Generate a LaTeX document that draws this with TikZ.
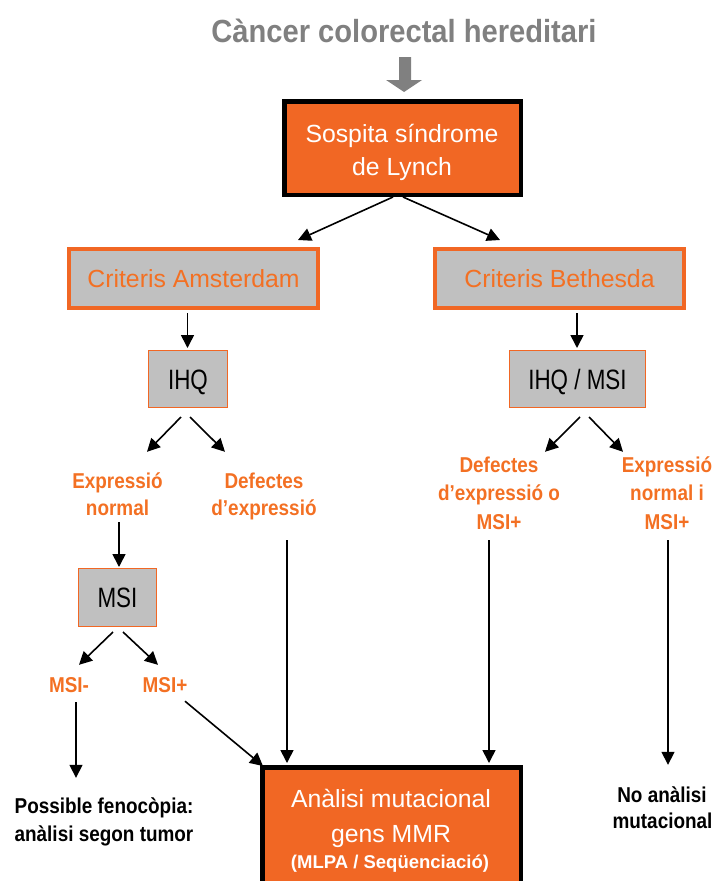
\documentclass[tikz,border=0pt]{standalone}
\usepackage{fontspec}
\setmainfont{Liberation Sans}
\newfontfamily\narrowfont[FakeStretch=0.8]{Liberation Sans}
\newfontfamily\labelfont[FakeStretch=0.88]{Liberation Sans}
\newfontfamily\titlefont[FakeStretch=0.91]{Liberation Sans}
\usetikzlibrary{arrows.meta}
\definecolor{lynchorange}{RGB}{241,103,36}
\definecolor{labelorange}{RGB}{243,112,35}
\definecolor{boxgray}{RGB}{192,192,192}
\definecolor{titlegray}{RGB}{128,128,128}

\begin{document}
\begin{tikzpicture}[x=1pt,y=-1pt,
  keybox/.style={draw=black, line width=4.5pt, fill=lynchorange, inner sep=0pt},
  critbox/.style={draw=lynchorange, line width=4pt, fill=boxgray, inner sep=0pt,
    minimum width=249pt, minimum height=59pt, text=labelorange,
    font=\fontsize{24.8}{30}\selectfont, text height=17.8pt, text depth=0pt},
  testbox/.style={draw=lynchorange, line width=1.3pt, fill=boxgray, inner sep=0pt,
    minimum height=56.7pt, font=\narrowfont\fontsize{28}{32}\selectfont,
    text height=20pt, text depth=0pt},
  whiteline/.style={text=white, inner sep=0pt, anchor=base,
    font=\fontsize{24.8}{30}\selectfont},
  outcome/.style={inner sep=0pt, anchor=base, text height=15.5pt, text depth=4.5pt,
    font=\labelfont\bfseries\fontsize{21.5}{26}\selectfont},
  orangelabel/.style={outcome, text=labelorange},
  blacklabel/.style={outcome, text=black},
  arr/.style={line width=1.6pt, -{Triangle[length=13pt,width=13pt]}},
]
\useasboundingbox (0,0) rectangle (713,881);
\clip (0,0) rectangle (713,881);

% heading and the broad grey arrow below it
\node[text=titlegray, inner sep=0pt, anchor=base,
      font=\titlefont\bfseries\fontsize{32}{36}\selectfont] (title) at (404,42)
      {Càncer colorectal hereditari};
\fill[titlegray] (399,57) -- (411,57) -- (411,80) -- (422,80) -- (404,92)
                 -- (386,80) -- (399,80) -- cycle;

% suspicion box
\node[keybox, minimum width=236.5pt, minimum height=93.5pt] (sosp) at (402.5,148) {};
\node[whiteline] (sp1) at (402,142) {Sospita síndrome};
\node[whiteline] (sp2) at (402,175) {de Lynch};

% clinical criteria
\node[critbox] (crA) at (193.5,278.5) {Criteris Amsterdam};
\node[critbox] (crB) at (559.5,278.5) {Criteris Bethesda};

% tumour tests
\node[testbox, minimum width=78.7pt] (ihq) at (188,379) {IHQ};
\node[testbox, minimum width=135.7pt] (ihqm) at (577.5,379) {IHQ / MSI};
\node[testbox, minimum width=77.7pt, minimum height=57.7pt] (msi) at (117.5,597.5) {MSI};

% test results
\node[orangelabel] (en1) at (117.5,488) {Expressió};
\node[orangelabel] (en2) at (117.5,515) {normal};
\node[orangelabel] (dd1) at (264,488) {Defectes};
\node[orangelabel] (dd2) at (264,515) {d’expressió};
\node[orangelabel] (rd1) at (499,472) {Defectes};
\node[orangelabel] (rd2) at (499,500) {d’expressió o};
\node[orangelabel] (rd3) at (499,529) {MSI+};
\node[orangelabel] (rn1) at (667,472) {Expressió};
\node[orangelabel] (rn2) at (667,500) {normal i};
\node[orangelabel] (rn3) at (667,529) {MSI+};
\node[orangelabel] (msim) at (69,692) {MSI-};
\node[orangelabel] (msip) at (165,692) {MSI+};

% final outcomes
\node[blacklabel] (pf1) at (104,813) {Possible fenocòpia:};
\node[blacklabel] (pf2) at (104,841) {anàlisi segon tumor};
\node[blacklabel] (na1) at (662,802) {No anàlisi};
\node[blacklabel] (na2) at (662.5,828) {mutacional};

\node[keybox, minimum width=258.5pt, minimum height=200pt, anchor=north] (mut) at (391.5,765) {};
\node[whiteline] (ml1) at (391,807) {Anàlisi mutacional};
\node[whiteline] (ml2) at (391,842) {gens MMR};
\node[text=white, inner sep=0pt, anchor=base,
      font=\bfseries\fontsize{18.5}{22}\selectfont] (ml3) at (390,868)
      {(MLPA / Seqüenciació)};

% connectors
\draw[arr] ([xshift=-9.5pt]sosp.south) -- ([xshift=104.5pt,yshift=7pt]crA.north);
\draw[arr] ([xshift=0.5pt]sosp.south) -- ([xshift=-59.5pt,yshift=7pt]crB.north);
\draw[arr] ([xshift=-6pt,yshift=-3pt]crA.south) -- ([xshift=-0.5pt,yshift=2pt]ihq.north);
\draw[arr] ([xshift=17.5pt,yshift=-3pt]crB.south) -- ([xshift=-0.5pt,yshift=2pt]ihqm.north);
\draw[arr] ([xshift=-7pt,yshift=-9pt]ihq.south) -- ([xshift=29.5pt,yshift=20.5pt]en1.north);
\draw[arr] ([xshift=2pt,yshift=-9pt]ihq.south) -- ([xshift=-39pt,yshift=20.5pt]dd1.north);
\draw[arr] ([xshift=2.5pt,yshift=-9pt]ihqm.south) -- ([xshift=46pt,yshift=4.5pt]rd1.north);
\draw[arr] ([xshift=11.5pt,yshift=-9pt]ihqm.south) -- ([xshift=-44pt,yshift=4.5pt]rn1.north);
\draw[arr] ([xshift=1.5pt,yshift=-2.5pt]en2.south) -- ([xshift=1.5pt,yshift=1pt]msi.north);
\draw[arr] ([xshift=-4.5pt,yshift=-5pt]msi.south) -- ([xshift=10pt,yshift=11.5pt]msim.north);
\draw[arr] ([xshift=5.5pt,yshift=-5pt]msi.south) -- ([xshift=-7pt,yshift=11.5pt]msip.north);
\draw[arr] ([xshift=7pt,yshift=-5.5pt]msim.south) -- ([xshift=-28pt,yshift=19.5pt]pf1.north);
\draw[arr] ([xshift=20pt,yshift=-4.5pt]msip.south) -- ([xshift=3pt,yshift=-1pt]mut.north west);
\draw[arr] ([xshift=23pt,yshift=-20.5pt]dd2.south) -- ([xshift=-104.5pt,yshift=2pt]mut.north);
\draw[arr] ([xshift=-10pt,yshift=-6.5pt]rd3.south) -- ([xshift=97.5pt,yshift=2pt]mut.north);
\draw[arr] ([xshift=1pt,yshift=-6.5pt]rn3.south) -- ([xshift=6pt,yshift=21.5pt]na1.north);
\end{tikzpicture}
\end{document}
